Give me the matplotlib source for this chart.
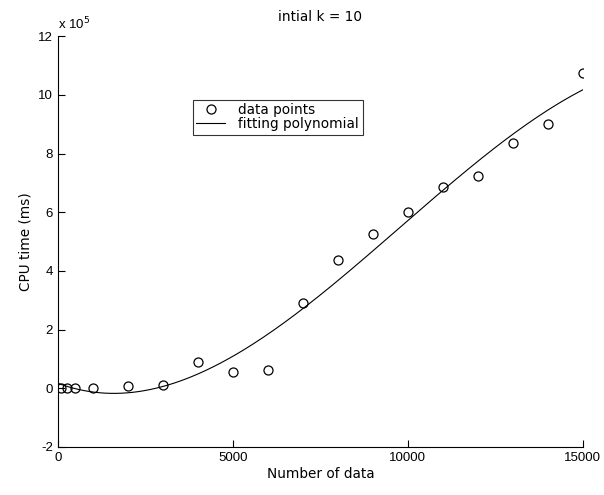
import numpy as np
import matplotlib
matplotlib.use("Agg")
import matplotlib.pyplot as plt

# data (y in units of 1e5 ms)
n_data = [100, 250, 500, 1000, 2000, 3000, 4000, 5000, 6000, 7000,
          8000, 9000, 10000, 11000, 12000, 13000, 14000, 15000]
cpu_time = [0.0, 0.0, 0.02, 0.02, 0.07, 0.1, 0.88, 0.55, 0.64, 2.9,
            4.36, 5.25, 6.0, 6.85, 7.25, 8.35, 9.0, 10.73]

x_ticks = [0, 5000, 10000, 15000]
y_ticks = [-2, 0, 2, 4, 6, 8, 10, 12]

plt.rcParams['font.family'] = ['Liberation Sans', 'DejaVu Sans']
plt.rcParams['font.size'] = 9.5
plt.rcParams['axes.unicode_minus'] = False

# wider face for the words, closer to the matlab screen font
txt_font = {'family': 'DejaVu Sans', 'size': 9.8}

# cubic least squares fit, like polyfit in the original
coef = np.polyfit(n_data, cpu_time, 3)
xfit = np.linspace(0, 15000, 200)
yfit = np.polyval(coef, xfit)

fig = plt.figure(figsize=(6.04, 4.95), dpi=100)
ax = fig.add_axes([0.096, 0.097, 0.869, 0.83])

ax.plot(n_data, cpu_time, 'o', mfc='none', mec='black', ms=6.5, mew=0.9,
        label='data points')
ax.plot(xfit, yfit, '-', color='black', lw=0.8, label='fitting polynomial')

ax.set_xlim(0, 15000)
ax.set_ylim(-2, 12)
ax.set_xticks(x_ticks)
ax.set_yticks(y_ticks)
ax.tick_params(direction='in', length=5, width=0.8, colors='black')
for s in ['top', 'right']:
    ax.spines[s].set_visible(False)
for s in ['left', 'bottom']:
    ax.spines[s].set_linewidth(0.8)

ax.set_xlabel('Number of data', fontdict=txt_font, labelpad=2)
ax.set_ylabel('CPU time (ms)', fontdict=txt_font, labelpad=4)
ax.set_title('intial k = 10', fontdict=txt_font, pad=11)
ax.text(0.0, 1.01, r'x 10$^{5}$', transform=ax.transAxes, ha='left',
        va='bottom', fontsize=9.5)

leg = ax.legend(loc='upper left', bbox_to_anchor=(0.257, 0.845),
                borderaxespad=0, frameon=True, fancybox=False,
                edgecolor='black', handlelength=2.1, handletextpad=1.0,
                borderpad=0.25, labelspacing=0.0, prop=txt_font)
leg.get_frame().set_linewidth(0.8)

fig.savefig('out.png', dpi=100)
